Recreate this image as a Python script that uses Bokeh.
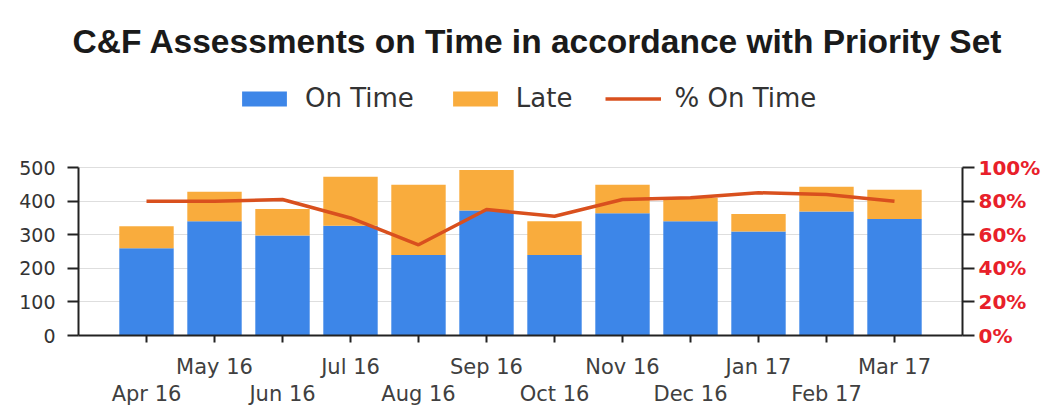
from bokeh.plotting import figure
from bokeh.models import (Range1d, LinearAxis, FixedTicker, PrintfTickFormatter,
                          Legend, LegendItem, ColumnDataSource)
from bokeh.embed import file_html
from bokeh.resources import INLINE

# ---- data ----
months = ["Apr 16", "May 16", "Jun 16", "Jul 16", "Aug 16", "Sep 16",
          "Oct 16", "Nov 16", "Dec 16", "Jan 17", "Feb 17", "Mar 17"]
on_time = [260, 340, 298, 327, 240, 372, 240, 364, 340, 310, 369, 347]
late = [65, 88, 79, 146, 209, 121, 100, 85, 70, 52, 74, 87]
pct_on_time = [80, 80, 81, 70, 54, 75, 71, 81, 82, 85, 84, 80]
y_ticks = [0, 100, 200, 300, 400, 500]
pct_ticks = [0, 20, 40, 60, 80, 100]

BLUE = "#3D86E8"
ORANGE = "#F9AC3D"
RED_LINE = "#D9501E"
RED_TEXT = "#E8202A"

# frame extends above the 500 mark to host the legend; axes/grid are bounded to 0..500
Y_MAX, Y_TOP = 500, 789
PCT_MAX = 100
PCT_TOP = Y_TOP * PCT_MAX / Y_MAX

idx = list(range(len(months)))
src = ColumnDataSource(dict(
    x=idx,
    on_time=on_time,
    total=[a + b for a, b in zip(on_time, late)],
    pct=pct_on_time,
))

p = figure(width=1047, height=410, x_range=Range1d(-1, len(months)),
           y_range=Range1d(0, Y_TOP), output_backend="svg", toolbar_location=None,
           x_axis_type=None, min_border_left=78, min_border_right=85,
           min_border_top=70, min_border_bottom=75)
p.outline_line_color = None
p.background_fill_color = "white"

p.extra_y_ranges = {"pct": Range1d(0, PCT_TOP)}

r_on = p.vbar(x="x", top="on_time", width=0.8, fill_color=BLUE, line_color=None, source=src)
r_late = p.vbar(x="x", bottom="on_time", top="total", width=0.8, fill_color=ORANGE,
                line_color=None, source=src)
r_pct = p.line(x="x", y="pct", y_range_name="pct", line_color=RED_LINE, line_width=3.5,
               source=src)

# left axis
ya = p.yaxis[0]
ya.ticker = FixedTicker(ticks=y_ticks)
ya.bounds = (0, Y_MAX)
ya.axis_line_color = "#222222"
ya.axis_line_width = 2
ya.major_tick_line_color = "#222222"
ya.major_tick_line_width = 2
ya.major_tick_out = 11
ya.major_tick_in = 0
ya.minor_tick_line_color = None
ya.major_label_text_font = "DejaVu Sans"
ya.major_label_text_font_size = "19px"
ya.major_label_text_color = "#333333"
ya.major_label_standoff = 12

p.ygrid.grid_line_color = "#dedede"
p.ygrid.ticker = FixedTicker(ticks=y_ticks)

# right axis
ra = LinearAxis(y_range_name="pct", ticker=FixedTicker(ticks=pct_ticks),
                formatter=PrintfTickFormatter(format="%d%%"), bounds=(0, PCT_MAX))
ra.axis_line_color = "#222222"
ra.axis_line_width = 2
ra.major_tick_line_color = "#222222"
ra.major_tick_line_width = 2
ra.major_tick_out = 12
ra.major_tick_in = 0
ra.minor_tick_line_color = None
ra.major_label_text_font = "DejaVu Sans"
ra.major_label_text_font_style = "bold"
ra.major_label_text_font_size = "20px"
ra.major_label_text_color = RED_TEXT
ra.major_label_standoff = 4
p.add_layout(ra, "right")

# bottom axes: two staggered rows of month labels
xa1 = LinearAxis(ticker=FixedTicker(ticks=idx),
                 major_label_overrides={i: (m if i % 2 == 1 else "") for i, m in zip(idx, months)})
xa1.axis_line_color = "#222222"
xa1.axis_line_width = 2
xa1.major_tick_line_color = "#222222"
xa1.major_tick_line_width = 2
xa1.major_tick_out = 7
xa1.major_tick_in = 0
xa1.minor_tick_line_color = None
xa1.major_label_text_font = "DejaVu Sans"
xa1.major_label_text_font_size = "21px"
xa1.major_label_text_color = "#404040"
xa1.major_label_standoff = 12
p.add_layout(xa1, "below")

xa2 = LinearAxis(ticker=FixedTicker(ticks=idx[0::2]),
                 major_label_overrides={i: m for i, m in zip(idx[0::2], months[0::2])})
xa2.axis_line_color = None
xa2.major_tick_line_color = None
xa2.major_tick_out = 0
xa2.major_tick_in = 0
xa2.minor_tick_line_color = None
xa2.major_label_text_font = "DejaVu Sans"
xa2.major_label_text_font_size = "21px"
xa2.major_label_text_color = "#404040"
xa2.major_label_standoff = 0
p.add_layout(xa2, "below")

# legend, inside the upper (empty) part of the frame
legend = Legend(items=[LegendItem(label="On Time", renderers=[r_on]),
                       LegendItem(label="Late", renderers=[r_late]),
                       LegendItem(label="% On Time", renderers=[r_pct])],
                orientation="horizontal", location=(158, 222),
                glyph_width=56, glyph_height=19, label_standoff=13, spacing=33,
                label_text_font="DejaVu Sans", label_text_font_size="26px",
                label_text_color="#333333",
                border_line_color=None, background_fill_alpha=0, padding=0, margin=0)
p.add_layout(legend, "center")

# title
p.title.text = "C&F Assessments on Time in accordance with Priority Set"
p.title.align = "left"
p.title.offset = -6
p.title.text_font = "Liberation Sans"
p.title.text_font_style = "bold"
p.title.text_font_size = "33.5px"
p.title.text_color = "#1a1a1a"
p.title.standoff = 21

open("out.html", "w").write(file_html(p, INLINE))
